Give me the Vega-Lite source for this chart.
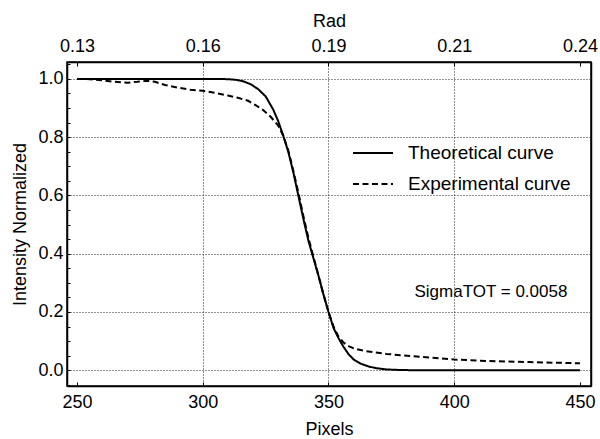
{
  "$schema": "https://vega.github.io/schema/vega-lite/v6.json",
  "width": 524,
  "height": 324,
  "autosize": "none",
  "padding": {"left": 67, "top": 62, "right": 9, "bottom": 53},
  "background": "white",
  "config": {
    "font": "Liberation Sans",
    "view": {"stroke": "black", "strokeWidth": 1.5},
    "axis": {
      "domain": true,
      "domainColor": "black",
      "domainWidth": 1.5,
      "labelColor": "black",
      "titleColor": "black",
      "labelFontSize": 18,
      "titleFontSize": 18,
      "titleFontWeight": "normal",
      "tickColor": "black",
      "tickWidth": 1,
      "gridColor": "#222222",
      "gridDash": [1, 2],
      "gridWidth": 1
    }
  },
  "datasets": {
    "curves": [
      {"pixel": 250, "value": 1.0, "series": "Theoretical curve"},
      {"pixel": 270, "value": 1.0, "series": "Theoretical curve"},
      {"pixel": 290, "value": 1.0, "series": "Theoretical curve"},
      {"pixel": 305, "value": 1.0, "series": "Theoretical curve"},
      {"pixel": 310, "value": 0.999, "series": "Theoretical curve"},
      {"pixel": 313, "value": 0.997, "series": "Theoretical curve"},
      {"pixel": 316, "value": 0.992, "series": "Theoretical curve"},
      {"pixel": 319, "value": 0.982, "series": "Theoretical curve"},
      {"pixel": 322, "value": 0.965, "series": "Theoretical curve"},
      {"pixel": 325, "value": 0.94, "series": "Theoretical curve"},
      {"pixel": 328, "value": 0.895, "series": "Theoretical curve"},
      {"pixel": 330, "value": 0.855, "series": "Theoretical curve"},
      {"pixel": 332, "value": 0.805, "series": "Theoretical curve"},
      {"pixel": 334, "value": 0.75, "series": "Theoretical curve"},
      {"pixel": 336, "value": 0.68, "series": "Theoretical curve"},
      {"pixel": 338, "value": 0.6, "series": "Theoretical curve"},
      {"pixel": 340, "value": 0.52, "series": "Theoretical curve"},
      {"pixel": 342, "value": 0.445, "series": "Theoretical curve"},
      {"pixel": 344, "value": 0.385, "series": "Theoretical curve"},
      {"pixel": 346, "value": 0.325, "series": "Theoretical curve"},
      {"pixel": 348, "value": 0.26, "series": "Theoretical curve"},
      {"pixel": 350, "value": 0.2, "series": "Theoretical curve"},
      {"pixel": 352, "value": 0.145, "series": "Theoretical curve"},
      {"pixel": 354, "value": 0.11, "series": "Theoretical curve"},
      {"pixel": 356, "value": 0.08, "series": "Theoretical curve"},
      {"pixel": 358, "value": 0.055, "series": "Theoretical curve"},
      {"pixel": 360, "value": 0.037, "series": "Theoretical curve"},
      {"pixel": 363, "value": 0.022, "series": "Theoretical curve"},
      {"pixel": 366, "value": 0.013, "series": "Theoretical curve"},
      {"pixel": 369, "value": 0.007, "series": "Theoretical curve"},
      {"pixel": 373, "value": 0.003, "series": "Theoretical curve"},
      {"pixel": 378, "value": 0.001, "series": "Theoretical curve"},
      {"pixel": 385, "value": 0.0, "series": "Theoretical curve"},
      {"pixel": 400, "value": 0.0, "series": "Theoretical curve"},
      {"pixel": 450, "value": 0.0, "series": "Theoretical curve"},
      {"pixel": 250, "value": 1.0, "series": "Experimental curve"},
      {"pixel": 255, "value": 0.999, "series": "Experimental curve"},
      {"pixel": 260, "value": 0.995, "series": "Experimental curve"},
      {"pixel": 265, "value": 0.99, "series": "Experimental curve"},
      {"pixel": 270, "value": 0.987, "series": "Experimental curve"},
      {"pixel": 274, "value": 0.99, "series": "Experimental curve"},
      {"pixel": 278, "value": 0.994, "series": "Experimental curve"},
      {"pixel": 281, "value": 0.99, "series": "Experimental curve"},
      {"pixel": 285, "value": 0.979, "series": "Experimental curve"},
      {"pixel": 290, "value": 0.97, "series": "Experimental curve"},
      {"pixel": 295, "value": 0.963, "series": "Experimental curve"},
      {"pixel": 300, "value": 0.959, "series": "Experimental curve"},
      {"pixel": 305, "value": 0.952, "series": "Experimental curve"},
      {"pixel": 310, "value": 0.943, "series": "Experimental curve"},
      {"pixel": 314, "value": 0.935, "series": "Experimental curve"},
      {"pixel": 318, "value": 0.925, "series": "Experimental curve"},
      {"pixel": 321, "value": 0.91, "series": "Experimental curve"},
      {"pixel": 324, "value": 0.893, "series": "Experimental curve"},
      {"pixel": 327, "value": 0.87, "series": "Experimental curve"},
      {"pixel": 330, "value": 0.84, "series": "Experimental curve"},
      {"pixel": 332, "value": 0.805, "series": "Experimental curve"},
      {"pixel": 334, "value": 0.755, "series": "Experimental curve"},
      {"pixel": 336, "value": 0.685, "series": "Experimental curve"},
      {"pixel": 338, "value": 0.61, "series": "Experimental curve"},
      {"pixel": 340, "value": 0.53, "series": "Experimental curve"},
      {"pixel": 342, "value": 0.455, "series": "Experimental curve"},
      {"pixel": 344, "value": 0.39, "series": "Experimental curve"},
      {"pixel": 346, "value": 0.325, "series": "Experimental curve"},
      {"pixel": 348, "value": 0.26, "series": "Experimental curve"},
      {"pixel": 350, "value": 0.2, "series": "Experimental curve"},
      {"pixel": 352, "value": 0.15, "series": "Experimental curve"},
      {"pixel": 354, "value": 0.115, "series": "Experimental curve"},
      {"pixel": 356, "value": 0.095, "series": "Experimental curve"},
      {"pixel": 358, "value": 0.083, "series": "Experimental curve"},
      {"pixel": 360, "value": 0.075, "series": "Experimental curve"},
      {"pixel": 364, "value": 0.067, "series": "Experimental curve"},
      {"pixel": 368, "value": 0.062, "series": "Experimental curve"},
      {"pixel": 373, "value": 0.056, "series": "Experimental curve"},
      {"pixel": 380, "value": 0.051, "series": "Experimental curve"},
      {"pixel": 390, "value": 0.044, "series": "Experimental curve"},
      {"pixel": 400, "value": 0.037, "series": "Experimental curve"},
      {"pixel": 410, "value": 0.033, "series": "Experimental curve"},
      {"pixel": 420, "value": 0.03, "series": "Experimental curve"},
      {"pixel": 430, "value": 0.028, "series": "Experimental curve"},
      {"pixel": 440, "value": 0.026, "series": "Experimental curve"},
      {"pixel": 450, "value": 0.024, "series": "Experimental curve"}
    ],
    "note": [
      {"pixel": 414.6, "value": 0.269, "label": "SigmaTOT = 0.0058"}
    ]
  },
  "layer": [
    {
      "data": {"name": "curves"},
      "mark": {"type": "line", "color": "black", "strokeWidth": 2, "clip": true},
      "encoding": {
        "x": {
          "field": "pixel",
          "type": "quantitative",
          "scale": {"domain": [246, 454.4], "nice": false, "zero": false},
          "axis": {
            "orient": "bottom",
            "title": "Pixels",
            "values": [250, 300, 350, 400, 450],
            "format": "d",
            "tickSize": -4,
            "labelPadding": 11,
            "titlePadding": 9,
            "grid": true,
            "gridOpacity": {"condition": {"test": "datum.value == 250 || datum.value == 450", "value": 0}, "value": 1}
          }
        },
        "y": {
          "field": "value",
          "type": "quantitative",
          "scale": {"domain": [-0.054, 1.058], "nice": false, "zero": false},
          "axis": {
            "orient": "left",
            "title": "Intensity Normalized",
            "values": [-0.05, 0, 0.05, 0.1, 0.15, 0.2, 0.25, 0.3, 0.35, 0.4, 0.45, 0.5, 0.55, 0.6, 0.65, 0.7, 0.75, 0.8, 0.85, 0.9, 0.95, 1.0, 1.05],
            "labelExpr": "abs(datum.value*5 - round(datum.value*5)) < 0.01 ? format(datum.value, '.1f') : ''",
            "tickSize": -3,
            "labelPadding": 7,
            "titlePadding": 8,
            "grid": true,
            "gridOpacity": {"condition": {"test": "abs(datum.value*5 - round(datum.value*5)) < 0.01", "value": 1}, "value": 0}
          }
        },
        "strokeDash": {
          "field": "series",
          "type": "nominal",
          "scale": {"domain": ["Theoretical curve", "Experimental curve"], "range": [[1, 0], [6, 3.5]]},
          "legend": {
            "title": null,
            "orient": "none",
            "legendX": 285,
            "legendY": 70,
            "symbolType": "stroke",
            "symbolSize": 1600,
            "symbolStrokeWidth": 2,
            "symbolStrokeColor": "black",
            "labelFontSize": 19,
            "labelColor": "black",
            "labelOffset": 14,
            "rowPadding": -2,
            "labelLimit": 300
          }
        }
      }
    },
    {
      "data": {"name": "note"},
      "mark": {"type": "text", "fontSize": 17, "color": "black", "align": "center", "baseline": "middle"},
      "encoding": {
        "x": {
          "field": "pixel",
          "type": "quantitative",
          "axis": {
            "orient": "top",
            "title": "Rad",
            "values": [250, 300, 350, 400, 450],
            "labelExpr": "datum.value == 250 ? '0.13' : datum.value == 300 ? '0.16' : datum.value == 350 ? '0.19' : datum.value == 400 ? '0.21' : '0.24'",
            "tickSize": -4,
            "labelPadding": 11,
            "titlePadding": 7,
            "grid": false
          }
        },
        "y": {
          "field": "value",
          "type": "quantitative",
          "axis": {"orient": "right", "title": null, "labels": false, "ticks": false, "grid": false}
        },
        "text": {"field": "label"}
      }
    }
  ],
  "resolve": {"axis": {"x": "independent", "y": "independent"}}
}
